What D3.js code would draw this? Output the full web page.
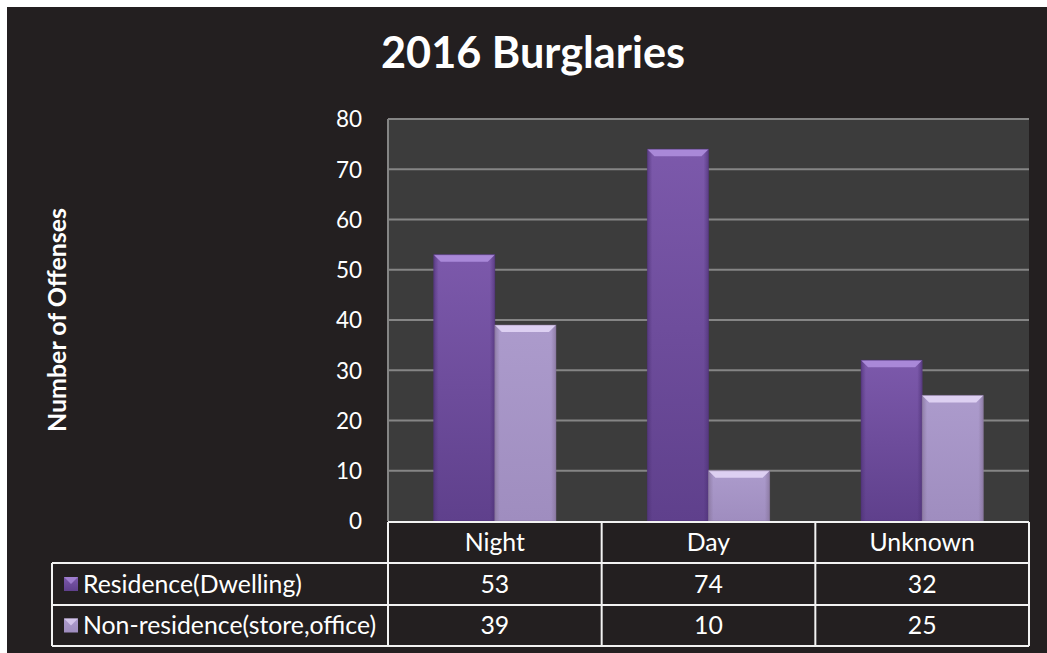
<!DOCTYPE html>
<html><head><meta charset="utf-8">
<script src="https://cdn.jsdelivr.net/npm/d3@7"></script>
<style>html,body{margin:0;padding:0;background:#fff;}svg{display:block;}</style>
</head><body>
<script>
const title = "2016 Burglaries";
const yTitle = "Number of Offenses";
const categories = ["Night", "Day", "Unknown"];
const seriesNames = ["Residence(Dwelling)", "Non-residence(store,office)"];
const residence = [53, 74, 32];
const nonResidence = [39, 10, 25];
const yTicks = [0, 10, 20, 30, 40, 50, 60, 70, 80];

const W = 1047, H = 653;
const svg = d3.select("body").append("svg").attr("width", W).attr("height", H);
const FONT = "Lato, 'Open Sans', sans-serif";

svg.append("rect").attr("x", 7).attr("y", 7).attr("width", W - 7).attr("height", H - 7).attr("fill", "#231f20");

const plot = {left: 388, right: 1029, top: 119, bottom: 521};
const x0 = d3.scaleBand().domain(categories).range([plot.left, plot.right]).padding(0);
const bw = x0.bandwidth();
const x1 = d3.scaleBand().domain(seriesNames).range([bw * 0.214, bw * 0.786]).padding(0);
const y = d3.scaleLinear().domain([0, 80]).range([plot.bottom, plot.top]);

const defs = svg.append("defs");
const palettes = [
  {id: "g0", top: "#7c59ab", bot: "#5f408c", edge: "#4e3276", bevel: "#a988d8"},
  {id: "g1", top: "#ac9bcc", bot: "#9f8dbf", edge: "#857399", bevel: "#ddd0f2"}
];
palettes.forEach(p => {
  const g = defs.append("linearGradient").attr("id", p.id).attr("x1", 0).attr("y1", 0).attr("x2", 0).attr("y2", 1);
  g.append("stop").attr("offset", "0%").attr("stop-color", p.top);
  g.append("stop").attr("offset", "100%").attr("stop-color", p.bot);
  const h = defs.append("linearGradient").attr("id", p.id + "h").attr("x1", 0).attr("y1", 0).attr("x2", 1).attr("y2", 0);
  h.append("stop").attr("offset", "0%").attr("stop-color", p.edge).attr("stop-opacity", 0.7);
  h.append("stop").attr("offset", "8%").attr("stop-color", p.edge).attr("stop-opacity", 0);
  h.append("stop").attr("offset", "92%").attr("stop-color", p.edge).attr("stop-opacity", 0);
  h.append("stop").attr("offset", "100%").attr("stop-color", p.edge).attr("stop-opacity", 0.7);
});

// plot area
svg.append("rect").attr("x", plot.left).attr("y", plot.top)
  .attr("width", plot.right - plot.left).attr("height", plot.bottom - plot.top).attr("fill", "#3c3c3c");
svg.append("g").selectAll("line").data(yTicks.filter(d => d > 0)).join("line")
  .attr("x1", plot.left).attr("x2", plot.right).attr("y1", d => y(d)).attr("y2", d => y(d))
  .attr("stroke", "#858585").attr("stroke-width", 2);
svg.append("line").attr("x1", plot.left).attr("x2", plot.left).attr("y1", plot.top).attr("y2", plot.bottom)
  .attr("stroke", "#858585").attr("stroke-width", 2);

// bars
const data = categories.map((c, i) => ({c, vals: [residence[i], nonResidence[i]]}));
const groups = svg.append("g").selectAll("g").data(data).join("g")
  .attr("transform", d => `translate(${x0(d.c)},0)`);
groups.each(function (d) {
  const g = d3.select(this);
  d.vals.forEach((v, si) => {
    const p = palettes[si];
    const bx = x1(seriesNames[si]), bwid = x1.bandwidth();
    const by = y(v), bh = y(0) - y(v);
    g.append("rect").attr("x", bx).attr("y", by).attr("width", bwid).attr("height", bh).attr("fill", `url(#${p.id})`);
    g.append("rect").attr("x", bx).attr("y", by).attr("width", bwid).attr("height", bh).attr("fill", `url(#${p.id}h)`);
    const bev = 7;
    g.append("path")
      .attr("d", `M${bx},${by} L${bx + bwid},${by} L${bx + bwid - bev},${by + bev} L${bx + bev},${by + bev} Z`)
      .attr("fill", p.bevel);
    g.append("rect").attr("x", bx).attr("y", by).attr("width", bwid).attr("height", bh)
      .attr("fill", "none").attr("stroke", p.edge).attr("stroke-opacity", 0.5).attr("stroke-width", 1);
  });
});

function fit(sel, target) {
  const base = parseFloat(sel.attr("font-size"));
  const w = sel.node().getComputedTextLength();
  const fs = base * target / w;
  sel.attr("font-size", fs.toFixed(2));
  return fs;
}

// y axis
const yAxis = d3.axisLeft(y).tickValues(yTicks).tickSize(0).tickPadding(26);
const ya = svg.append("g").attr("transform", `translate(${plot.left},0)`).call(yAxis);
ya.select(".domain").remove();
ya.selectAll("text").attr("fill", "#ffffff").attr("font-family", FONT).attr("font-size", 22.5).attr("dy", "0.35em");

// title
const t = svg.append("text").attr("x", 533).attr("y", 68).attr("text-anchor", "middle")
  .attr("fill", "#fff").attr("font-family", FONT).attr("font-weight", "bold").attr("font-size", 40).text(title);
fit(t, 304);

const yt = svg.append("text").attr("transform", "translate(66,320) rotate(-90)").attr("text-anchor", "middle")
  .attr("fill", "#fff").attr("font-family", FONT).attr("font-weight", "bold").attr("font-size", 18).text(yTitle);
fit(yt, 224);

// data table
const rowsY = [522, 563, 605, 646];
const tbl = svg.append("g");
const lineAttrs = s => s.attr("stroke", "#f2f2f2").attr("stroke-width", 2);
lineAttrs(tbl.append("line").attr("x1", plot.left).attr("x2", plot.right).attr("y1", rowsY[0]).attr("y2", rowsY[0]));
[1, 2, 3].forEach(r => lineAttrs(tbl.append("line").attr("x1", 52).attr("x2", plot.right).attr("y1", rowsY[r]).attr("y2", rowsY[r])));
lineAttrs(tbl.append("line").attr("x1", 52).attr("x2", 52).attr("y1", rowsY[1]).attr("y2", rowsY[3]));
categories.forEach(c => lineAttrs(tbl.append("line").attr("x1", x0(c)).attr("x2", x0(c)).attr("y1", rowsY[0]).attr("y2", rowsY[3])));
lineAttrs(tbl.append("line").attr("x1", plot.right).attr("x2", plot.right).attr("y1", rowsY[0]).attr("y2", rowsY[3]));

// measure table font size from the first legend label
const probe = svg.append("text").attr("font-family", FONT).attr("font-size", 22).text(seriesNames[0]);
const tfs = fit(probe, 219);
probe.remove();

tbl.selectAll("text.cat").data(categories).join("text").attr("class", "cat")
  .attr("x", d => x0(d) + bw / 2).attr("y", (rowsY[0] + rowsY[1]) / 2).attr("dy", "0.35em")
  .attr("text-anchor", "middle").attr("fill", "#fff").attr("font-family", FONT).attr("font-size", tfs).text(d => d);

const seriesVals = [residence, nonResidence];
seriesNames.forEach((s, si) => {
  const cy = (rowsY[si + 1] + rowsY[si + 2]) / 2;
  const p = palettes[si];
  tbl.append("rect").attr("x", 64).attr("y", cy - 7).attr("width", 14).attr("height", 14).attr("fill", `url(#${p.id})`);
  tbl.append("path").attr("d", `M64,${cy - 7} L78,${cy - 7} L71,${cy} Z`).attr("fill", p.bevel).attr("opacity", 0.8);
  tbl.append("text").attr("x", 83).attr("y", cy).attr("dy", "0.35em").attr("fill", "#fff")
    .attr("font-family", FONT).attr("font-size", tfs).text(s);
  tbl.selectAll(null).data(categories).join("text")
    .attr("x", d => x0(d) + bw / 2).attr("y", cy).attr("dy", "0.35em").attr("text-anchor", "middle")
    .attr("fill", "#fff").attr("font-family", FONT).attr("font-size", tfs).text((d, i) => seriesVals[si][i]);
});
</script>
</body></html>
